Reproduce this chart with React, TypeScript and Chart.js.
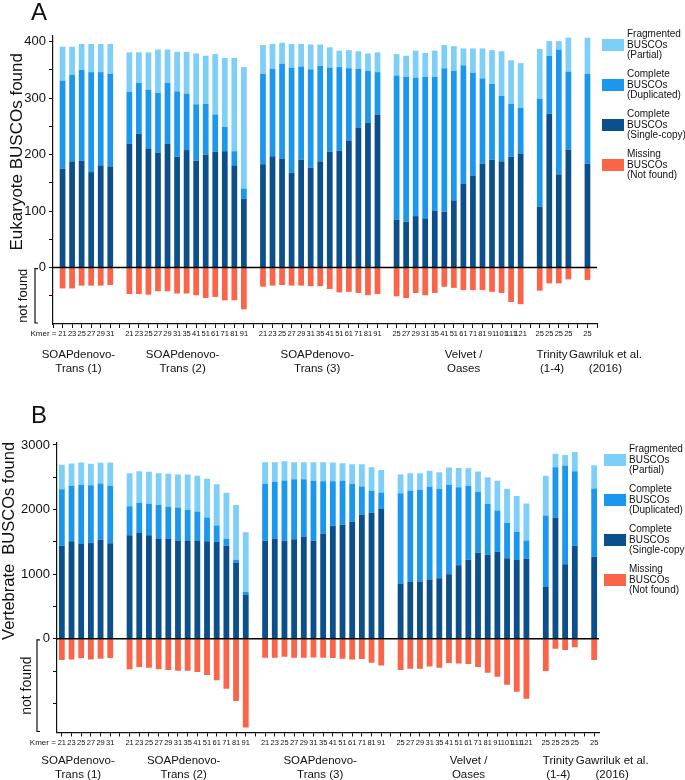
import React, { useEffect, useRef } from "react";
import { Chart, registerables } from "chart.js";

Chart.register(...registerables);

// ---------- categories ----------
const groupNames: string[][] = [
  ["SOAPdenovo-", "Trans (1)"],
  ["SOAPdenovo-", "Trans (2)"],
  ["SOAPdenovo-", "Trans (3)"],
  ["Velvet /", "Oases"],
  ["Trinity", "(1-4)"],
  ["Gawriluk et al.", "(2016)"],
];
const kmerSoap1 = ["21", "23", "25", "27", "29", "31"];
const kmerSoap = ["21", "23", "25", "27", "29", "31", "35", "41", "51", "61", "71", "81", "91"];
const kmerVelvet = ["25", "27", "29", "31", "35", "41", "51", "61", "71", "81", "91", "101", "111", "121"];
const kmerTrinity = ["25", "25", "25", "25"];
const kmerGawriluk = ["25"];
const groupKmers = [kmerSoap1, kmerSoap, kmerSoap, kmerVelvet, kmerTrinity, kmerGawriluk];

// ---------- panel A: Eukaryote BUSCOs ----------
const eukSingle = [175, 188, 189, 169, 181, 179,
  219, 237, 211, 203, 219, 196, 208, 189, 200, 205, 206, 181, 122,
  183, 197, 193, 168, 191, 177, 188, 205, 207, 225, 248, 256, 271,
  85, 81, 91, 87, 101, 99, 118, 148, 163, 184, 191, 188, 196, 202,
  108, 272, 165, 209,
  184];
const eukDuplicated = [156, 153, 161, 177, 165, 164,
  92, 90, 104, 106, 108, 116, 100, 100, 90, 66, 43, 25, 18,
  160, 155, 168, 186, 165, 174, 169, 149, 148, 128, 104, 92, 75,
  255, 257, 245, 251, 237, 254, 230, 210, 182, 151, 134, 116, 94, 81,
  191, 103, 221, 138,
  159];
const eukFragmented = [60, 50, 46, 50, 50, 53,
  70, 54, 66, 77, 59, 70, 74, 90, 85, 107, 122, 165, 215,
  51, 44, 37, 42, 40, 44, 38, 36, 29, 32, 31, 31, 35,
  38, 37, 48, 42, 46, 41, 44, 30, 43, 53, 60, 79, 77, 79,
  88, 26, 15, 60,
  64];
const eukMissing = [-37, -37, -32, -32, -32, -31,
  -47, -47, -48, -42, -42, -46, -46, -49, -54, -52, -58, -58, -74,
  -34, -32, -31, -32, -32, -33, -33, -38, -44, -43, -45, -49, -47,
  -51, -54, -45, -49, -45, -34, -36, -40, -40, -40, -43, -45, -61, -65,
  -41, -28, -28, -21,
  -22];
const eukTicks = [-50, 0, 50, 100, 150, 200, 250, 300, 350, 400];

// ---------- panel B: Vertebrate BUSCOs ----------
const vertSingle = [1441, 1508, 1467, 1487, 1534, 1477,
  1601, 1637, 1601, 1554, 1544, 1523, 1523, 1523, 1508, 1503, 1441, 1173, 685,
  1518, 1549, 1518, 1539, 1585, 1518, 1631, 1750, 1765, 1812, 1920, 1951, 2007,
  854, 880, 885, 916, 937, 998, 1137, 1225, 1333, 1302, 1348, 1245, 1220, 1240,
  803, 1873, 1153, 1441,
  1271];
const vertDuplicated = [875, 859, 916, 891, 870, 890,
  452, 463, 488, 515, 499, 510, 474, 448, 371, 252, 108, 52, 41,
  880, 880, 932, 931, 885, 927, 809, 690, 680, 586, 437, 339, 258,
  1400, 1410, 1416, 1436, 1384, 1385, 1210, 1142, 942, 788, 639, 546, 437, 283,
  1106, 783, 1528, 1153,
  1055];
const vertFragmented = [376, 345, 345, 329, 319, 361,
  510, 494, 495, 494, 510, 509, 545, 551, 597, 638, 710, 844, 921,
  335, 304, 298, 263, 263, 288, 293, 288, 272, 304, 345, 366, 349,
  288, 273, 262, 247, 257, 268, 298, 273, 314, 411, 458, 530, 551, 572,
  613, 206, 165, 298,
  361];
const vertMissing = [-329, -319, -299, -319, -309, -299,
  -473, -437, -448, -473, -484, -494, -494, -515, -561, -643, -772, -962, -1374,
  -293, -293, -278, -293, -293, -288, -293, -299, -309, -319, -314, -371, -412,
  -484, -463, -463, -427, -448, -376, -381, -391, -437, -525, -587, -710, -818, -926,
  -499, -154, -175, -129,
  -329];
const vertTicks = [-1000, -500, 0, 500, 1000, 1500, 2000, 2500, 3000];

// ---------- legend ----------
const legendLabels: string[][] = [
  ["Fragmented", "BUSCOs", "(Partial)"],
  ["Complete", "BUSCOs", "(Duplicated)"],
  ["Complete", "BUSCOs", "(Single-copy)"],
  ["Missing", "BUSCOs", "(Not found)"],
];

// ---------- styles / layout ----------
const COLORS = {
  frag: "#7DCFF7",
  dup: "#1B98EE",
  single: "#0B4F8B",
  miss: "#FA6448",
};
const legendColors = [COLORS.frag, COLORS.dup, COLORS.single, COLORS.miss];
const SANS = "'Liberation Sans', Arial, Helvetica, sans-serif";
const NARROW = "'Liberation Sans Narrow', 'Liberation Sans', Arial, sans-serif";
const W = 685;
const groupNudge = [-8, -4, -3, 5, -2, 18];

function buildLabels(padEnds: boolean) {
  const labels: string[] = [];
  const ranges: { start: number; end: number }[] = [];
  if (padEnds) labels.push("");
  groupKmers.forEach((g, gi) => {
    if (gi > 0) labels.push("");
    const start = labels.length;
    g.forEach((k) => labels.push(k));
    ranges.push({ start, end: labels.length - 1 });
  });
  if (padEnds) labels.push("");
  return { labels, ranges };
}

function buildSeries(values: number[], padEnds: boolean) {
  const out: (number | null)[] = [];
  let p = 0;
  if (padEnds) out.push(null);
  groupKmers.forEach((g, gi) => {
    if (gi > 0) out.push(null);
    g.forEach(() => out.push(values[p++]));
  });
  if (padEnds) out.push(null);
  return out;
}

type PanelCfg = {
  letter: string;
  title: string;
  single: number[];
  dup: number[];
  frag: number[];
  miss: number[];
  min: number;
  max: number;
  ticks: number[];
  labelStep: number;
  padEnds: boolean;
  canvasH: number;
  area: { left: number; top: number; right: number; bottom: number };
  letterY: number;
  titleX: number;
  titleSize: number;
  notFoundX: number;
  notFoundSize: number;
  bracketX: number;
  legendY0: number;
  legendSqX: number;
  legendTextX: number;
  groupY: number;
};

const panelA: PanelCfg = {
  letter: "A",
  title: "Eukaryote BUSCOs found",
  single: eukSingle,
  dup: eukDuplicated,
  frag: eukFragmented,
  miss: eukMissing,
  min: -100,
  max: 410,
  ticks: eukTicks,
  labelStep: 100,
  padEnds: true,
  canvasH: 385,
  area: { left: 53, top: 36, right: 597, bottom: 324 },
  letterY: 20,
  titleX: 17,
  titleSize: 17,
  notFoundX: 23,
  notFoundSize: 13,
  bracketX: 35,
  legendY0: 45,
  legendSqX: 602,
  legendTextX: 627,
  groupY: 355,
};

const panelB: PanelCfg = {
  letter: "B",
  title: "Vertebrate  BUSCOs found",
  single: vertSingle,
  dup: vertDuplicated,
  frag: vertFragmented,
  miss: vertMissing,
  min: -1450,
  max: 3030,
  ticks: vertTicks,
  labelStep: 1000,
  padEnds: false,
  canvasH: 395,
  area: { left: 57, top: 58, right: 599, bottom: 347.5 },
  letterY: 38,
  titleX: 9,
  titleSize: 16.5,
  notFoundX: 27,
  notFoundSize: 14,
  bracketX: 37,
  legendY0: 75,
  legendSqX: 604,
  legendTextX: 629,
  groupY: 376,
};

function decorPlugin(cfg: PanelCfg, ranges: { start: number; end: number }[]) {
  return {
    id: "decor" + cfg.letter,
    afterDatasetsDraw(chart: any) {
      const { ctx, chartArea: a, scales } = chart;
      const y0 = scales.y.getPixelForValue(0);
      ctx.save();
      ctx.strokeStyle = "#000";
      ctx.lineWidth = 1.6;
      ctx.beginPath();
      ctx.moveTo(a.left, y0);
      ctx.lineTo(a.right, y0);
      ctx.stroke();
      ctx.restore();
    },
    afterDraw(chart: any) {
      const { ctx, chartArea: a, scales } = chart;
      const x = scales.x;
      const y = scales.y;
      const y0 = y.getPixelForValue(0);
      ctx.save();
      ctx.fillStyle = "#111";

      // panel letter
      ctx.font = `24px ${SANS}`;
      ctx.textAlign = "left";
      ctx.textBaseline = "alphabetic";
      ctx.fillText(cfg.letter, 31, cfg.letterY);

      // y title (rotated)
      ctx.save();
      ctx.translate(cfg.titleX, (a.top + y0) / 2);
      ctx.rotate(-Math.PI / 2);
      ctx.font = `${cfg.titleSize}px ${SANS}`;
      ctx.textAlign = "center";
      ctx.textBaseline = "middle";
      ctx.fillText(cfg.title, 0, 0);
      ctx.restore();

      // "not found"
      ctx.save();
      ctx.translate(cfg.notFoundX, (y0 + a.bottom) / 2);
      ctx.rotate(-Math.PI / 2);
      ctx.font = `${cfg.notFoundSize}px ${SANS}`;
      ctx.textAlign = "center";
      ctx.textBaseline = "middle";
      ctx.fillText("not found", 0, 0);
      ctx.restore();

      // bracket
      ctx.strokeStyle = "#111";
      ctx.lineWidth = 1.2;
      ctx.beginPath();
      ctx.moveTo(cfg.bracketX + 3, y0 + 1);
      ctx.lineTo(cfg.bracketX, y0 + 1);
      ctx.lineTo(cfg.bracketX, a.bottom - 1);
      ctx.lineTo(cfg.bracketX + 3, a.bottom - 1);
      ctx.stroke();

      // Kmer =
      const firstPx = x.getPixelForValue(ranges[0].start);
      ctx.font = `8px ${SANS}`;
      ctx.textAlign = "right";
      ctx.textBaseline = "middle";
      ctx.fillText("Kmer =", firstPx - 6, a.bottom + 10);

      // group labels
      ctx.font = `11.5px ${SANS}`;
      ctx.textAlign = "center";
      ctx.textBaseline = "middle";
      ranges.forEach((r, i) => {
        const cx = (x.getPixelForValue(r.start) + x.getPixelForValue(r.end)) / 2 + groupNudge[i];
        groupNames[i].forEach((line, j) => {
          ctx.fillText(line, cx, cfg.groupY + j * 13.5);
        });
      });

      // legend
      legendLabels.forEach((lines, i) => {
        const cy = cfg.legendY0 + i * 40;
        ctx.fillStyle = legendColors[i];
        ctx.fillRect(cfg.legendSqX, cy - 6, 22, 12);
        ctx.fillStyle = "#111";
        ctx.font = `10px ${SANS}`;
        ctx.textAlign = "left";
        ctx.textBaseline = "middle";
        lines.forEach((t, j) => ctx.fillText(t, cfg.legendTextX, cy + (j - 1) * 10.5));
      });
      ctx.restore();
    },
  };
}

function Panel({ cfg }: { cfg: PanelCfg }) {
  const ref = useRef<HTMLCanvasElement>(null);
  useEffect(() => {
    if (!ref.current) return;
    const { labels, ranges } = buildLabels(cfg.padEnds);
    const ds = (vals: number[], color: string, label: string) => ({
      label,
      data: buildSeries(vals, cfg.padEnds),
      backgroundColor: color,
      borderWidth: 0,
      barPercentage: 0.6,
      categoryPercentage: 1.0,
      stack: "s",
    });
    const chart = new Chart(ref.current, {
      type: "bar",
      data: {
        labels,
        datasets: [
          ds(cfg.single, COLORS.single, "Complete BUSCOs (Single-copy)"),
          ds(cfg.dup, COLORS.dup, "Complete BUSCOs (Duplicated)"),
          ds(cfg.frag, COLORS.frag, "Fragmented BUSCOs (Partial)"),
          ds(cfg.miss, COLORS.miss, "Missing BUSCOs (Not found)"),
        ],
      },
      options: {
        responsive: false,
        animation: false,
        devicePixelRatio: 1,
        layout: {
          padding: { left: 0, top: cfg.area.top, right: W - cfg.area.right, bottom: 0 },
        },
        plugins: { legend: { display: false }, tooltip: { enabled: false } },
        scales: {
          x: {
            type: "category",
            stacked: true,
            offset: !cfg.padEnds,
            grid: {
              drawOnChartArea: false,
              offset: false,
              tickLength: 4,
              tickColor: "#111",
              color: "#111",
            },
            border: { display: true, color: "#111", width: 1.2 },
            ticks: {
              autoSkip: false,
              maxRotation: 0,
              minRotation: 0,
              padding: 1.5,
              color: "#111",
              font: { family: NARROW, size: 7.5 },
            },
            afterFit: (s: any) => {
              s.height = cfg.canvasH - cfg.area.bottom;
            },
          },
          y: {
            stacked: true,
            min: cfg.min,
            max: cfg.max,
            grid: {
              drawOnChartArea: false,
              tickLength: 4,
              tickColor: "#111",
              color: "#111",
            },
            border: { display: true, color: "#111", width: 1.2 },
            ticks: {
              color: "#111",
              padding: 3,
              font: { family: SANS, size: 13 },
              callback: (v: any) => (v >= 0 && v % cfg.labelStep === 0 ? String(v) : ""),
            },
            afterBuildTicks: (s: any) => {
              s.ticks = cfg.ticks.map((v) => ({ value: v }));
            },
            afterFit: (s: any) => {
              s.width = cfg.area.left;
            },
          },
        },
      },
      plugins: [decorPlugin(cfg, ranges)],
    } as any);
    return () => chart.destroy();
  }, [cfg]);
  return (
    <canvas
      ref={ref}
      width={W}
      height={cfg.canvasH}
      style={{ display: "block", width: W, height: cfg.canvasH }}
    />
  );
}

export default function App() {
  return (
    <div style={{ position: "absolute", left: 0, top: 0, width: W, height: 780, background: "#fff" }}>
      <Panel cfg={panelA} />
      <Panel cfg={panelB} />
    </div>
  );
}
